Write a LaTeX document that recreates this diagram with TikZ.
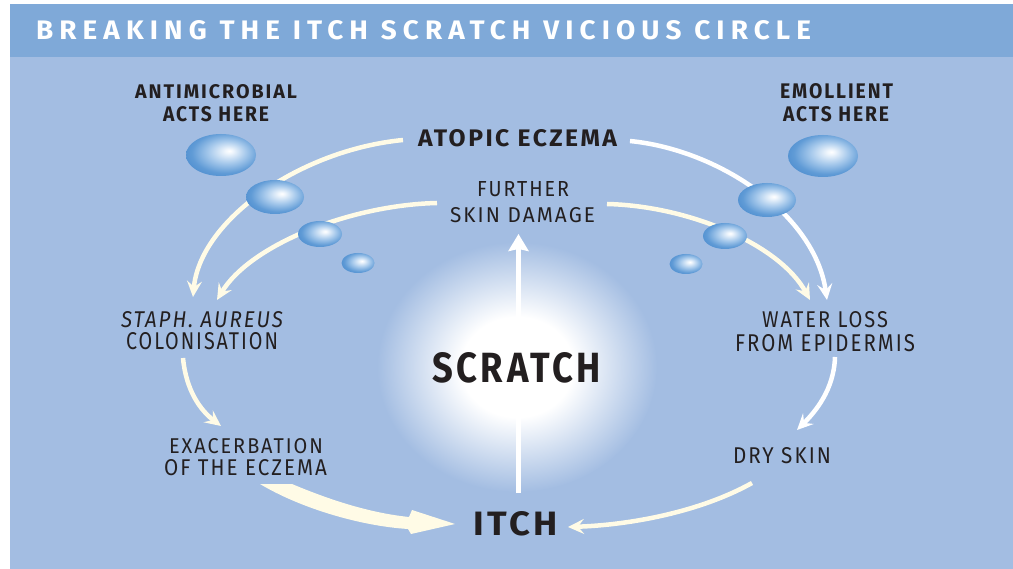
\documentclass[tikz,border=0pt]{standalone}
\usepackage{fontspec}
\setmainfont{Fira Sans}
\newfontfamily\titlefont[LetterSpace=22]{Fira Sans}
\newfontfamily\labfont[LetterSpace=10]{Fira Sans}
\usepackage{graphicx}
\usetikzlibrary{arrows.meta}
\definecolor{hdr}{RGB}{127,169,216}
\definecolor{bodyb}{RGB}{163,189,226}
\definecolor{bubA}{RGB}{74,139,206}
\definecolor{bubB}{RGB}{96,155,214}
\definecolor{bubC}{RGB}{168,202,236}
\definecolor{bubD}{RGB}{238,245,252}
\definecolor{cream}{RGB}{255,251,230}
\definecolor{ink}{RGB}{35,31,32}
\pgfdeclareradialshading{bubble}{\pgfpoint{6bp}{5bp}}{color(0bp)=(white); color(3bp)=(bubD); color(13bp)=(bubC); color(24bp)=(bubB); color(32bp)=(bubA); color(50bp)=(bubA)}
\pgfdeclareradialshading{glow}{\pgfpoint{0bp}{0bp}}{color(0bp)=(white); color(10bp)=(white); color(25bp)=(bodyb); color(50bp)=(bodyb)}
\newcommand{\fb}[3]{\resizebox{#1pt}{#2pt}{#3}}
\tikzset{
  lbl/.style={anchor=north west, inner sep=0pt, outer sep=0pt, text=ink, font=\labfont},
  arc/.style={line width=4.5pt, -{Stealth[length=16pt,width=15pt,inset=6pt]}},
  bub/.style={shading=bubble},
}
\begin{document}
\begin{tikzpicture}[x=1pt,y=-1pt]
\useasboundingbox (0,0) rectangle (1013,569);
\fill[white] (0,0) rectangle (1013,569);
\fill[hdr] (10,4) rectangle (1013,57);
\fill[bodyb] (10,57) rectangle (1013,569);
\shade[shading=glow] (517,367) ellipse [x radius=140, y radius=125];

% title
\node[lbl, text=white, font=\titlefont] (title) at (36,21) {\fb{775}{19}{\bfseries BREAKING THE ITCH SCRATCH VICIOUS CIRCLE}};

% labels
\node[lbl] (anti1) at (135,85) {\fb{162}{14}{\bfseries ANTIMICROBIAL}};
\node[lbl] (anti2) at (163,107) {\fb{106}{15}{\bfseries ACTS HERE}};
\node[lbl] (emol1) at (780,84) {\fb{113}{15}{\bfseries EMOLLIENT}};
\node[lbl] (emol2) at (783,107) {\fb{106}{15}{\bfseries ACTS HERE}};
\node[lbl] (atopic) at (418,130) {\fb{199}{17}{\bfseries ATOPIC ECZEMA}};
\node[lbl] (fur1) at (477,182) {\fb{92}{15}{FURTHER}};
\node[lbl] (fur2) at (450,208) {\fb{145}{15}{SKIN DAMAGE}};
\node[lbl] (staph1) at (121,312) {\fb{162}{16}{\itshape STAPH. AUREUS}};
\node[lbl] (staph2) at (126,333) {\fb{152}{17}{COLONISATION}};
\node[lbl] (exa1) at (169,438) {\fb{154}{15}{EXACERBATION}};
\node[lbl] (exa2) at (164,460) {\fb{163}{16}{OF THE ECZEMA}};
\node[lbl] (wat1) at (762,312) {\fb{126}{16}{WATER LOSS}};
\node[lbl] (wat2) at (735,334) {\fb{180}{17}{FROM EPIDERMIS}};
\node[lbl] (dry) at (733,448) {\fb{98}{16}{DRY SKIN}};
\node[lbl] (itch) at (473,511) {\fb{85}{24}{\bfseries ITCH}};

% connector end points
\coordinate (aL) at (403,140);
\coordinate (aR) at (630,141);
\coordinate (fL) at (437,203);
\coordinate (fR) at (607,204);
\coordinate (stTipA) at (193,297);
\coordinate (stTipB) at (217,300);
\coordinate (waTipA) at (827,300);
\coordinate (waTipB) at (810,300);
\coordinate (stOut) at (183,358);
\coordinate (exIn) at (221,426);
\coordinate (waOut) at (835,357);
\coordinate (drIn) at (797,430);
\coordinate (drOut) at (752,483);
\coordinate (itIn) at (568,527);
\coordinate (itUp) at (518.5,493);
\coordinate (scTip) at (518.5,234);

% arcs
\draw[arc, cream] (aL) .. controls (300,150) and (200,220) .. (stTipA);
\draw[arc, cream] (fL) .. controls (350,205) and (250,245) .. (stTipB);
\draw[arc, white] (aR) .. controls (720,150) and (815,215) .. (waTipA);
\draw[arc, cream] (fR) .. controls (690,206) and (780,245) .. (waTipB);
\draw[arc, cream] (stOut) .. controls (186,390) and (200,410) .. (exIn);
\draw[arc, white] (waOut) .. controls (834,390) and (815,412) .. (drIn);
\draw[arc, cream] (drOut) .. controls (700,512) and (630,525) .. (itIn);
\draw[line width=5pt, white, -{Stealth[length=17pt,width=20pt,inset=2pt]}] (itUp) -- (scTip);

% thick arrow exacerbation -> itch
\fill[cream] (260,484) -- (292,484) .. controls (330,500) and (370,513) .. (409,517)
  -- (412,510) -- (455,524) -- (411,534) -- (408,529) .. controls (360,526) and (300,508) .. cycle;

% bubbles
\shade[bub] (221,155) ellipse [x radius=35, y radius=21];
\shade[bub] (275,197) ellipse [x radius=29, y radius=17];
\shade[bub] (320,234) ellipse [x radius=22, y radius=13];
\shade[bub] (358,263) ellipse [x radius=16.5, y radius=10];
\shade[bub] (823,156) ellipse [x radius=35, y radius=21];
\shade[bub] (767,200) ellipse [x radius=29, y radius=17];
\shade[bub] (725,236) ellipse [x radius=22, y radius=13];
\shade[bub] (686,264) ellipse [x radius=16.5, y radius=10];

\node[lbl] (scratch) at (432,352) {\fb{169}{30}{\bfseries SCRATCH}};
\end{tikzpicture}
\end{document}
